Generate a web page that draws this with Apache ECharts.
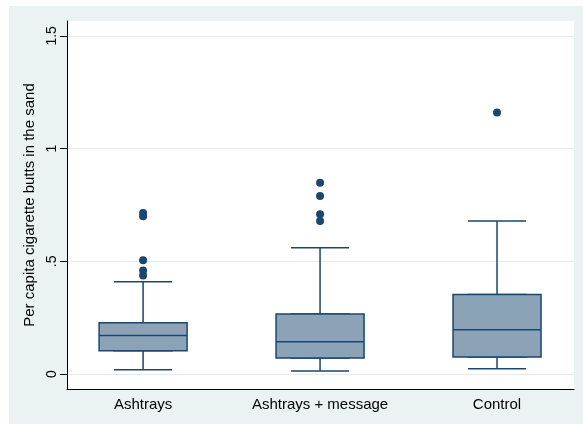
<!DOCTYPE html>
<html><head><meta charset="utf-8">
<script src="https://cdn.jsdelivr.net/npm/echarts@6/dist/echarts.min.js"></script>
<style>
html,body{margin:0;padding:0;background:#fff;width:583px;height:424px;overflow:hidden}
#chart{position:absolute;left:9px;top:6px;width:574px;height:418px;}
</style>
</head><body><div id="chart"></div>
<script>
const categories = ['Ashtrays', 'Ashtrays + message', 'Control'];
const lowerWhisker = [0.019, 0.014, 0.024];
const q1 = [0.104, 0.071, 0.076];
const median = [0.171, 0.144, 0.197];
const q3 = [0.228, 0.267, 0.353];
const upperWhisker = [0.410, 0.560, 0.679];
const outliersAshtrays = [0.437, 0.459, 0.505, 0.700, 0.715];
const outliersMessage = [0.679, 0.709, 0.790, 0.849];
const outliersControl = [1.160];
const yTickValues = [0, 0.5, 1, 1.5];
const yTickLabels = ['0', '.5', '1', '1.5'];
const yTitle = 'Per capita cigarette butts in the sand';

const NAVY = '#1A476F';
const FILL = '#8CA3B7';
const FONT = '"Liberation Sans", Arial, Helvetica, sans-serif';

const whiskerData = categories.map((c, i) => [i, lowerWhisker[i], q1[i], median[i], q3[i], upperWhisker[i]]);
const boxData = categories.map((c, i) => [i, q1[i], q1[i], median[i], q3[i], q3[i]]);
const outlierGroups = [outliersAshtrays, outliersMessage, outliersControl];
const outlierData = [];
outlierGroups.forEach((g, i) => g.forEach(v => outlierData.push([i, v])));

const xBase = { type: 'value', min: -0.43, max: 2.435, splitLine: { show: false }, axisTick: { show: false } };

const chart = echarts.init(document.getElementById('chart'), null, { renderer: 'canvas' });
chart.setOption({
  animation: false,
  backgroundColor: '#EAF2F3',
  grid: { left: 58, right: 9, top: 15, bottom: 35, show: true, backgroundColor: '#fff', borderWidth: 0, outerBoundsMode: 'none', containLabel: false },
  xAxis: [
    Object.assign({}, xBase, {
      axisLine: { show: true, onZero: false, lineStyle: { color: '#000', width: 1 } },
      axisLabel: { customValues: [0, 1, 2], formatter: v => categories[Math.round(v)], color: '#000', fontSize: 15, margin: 8, fontFamily: FONT }
    }),
    Object.assign({}, xBase, { show: false })
  ],
  yAxis: {
    type: 'value', min: -0.066, max: 1.566,
    name: yTitle, nameLocation: 'middle', nameRotate: 90, nameGap: 18,
    nameTextStyle: { color: '#000', fontSize: 15, fontFamily: FONT },
    axisLine: { show: true, onZero: false, lineStyle: { color: '#000', width: 1 } },
    axisTick: { show: true, customValues: yTickValues, length: 7, lineStyle: { color: '#000', width: 1 } },
    axisLabel: { customValues: yTickValues, formatter: v => yTickLabels[yTickValues.indexOf(v)] ?? String(v), rotate: 90, margin: 8, color: '#000', fontSize: 14, fontFamily: FONT },
    splitLine: { show: true, lineStyle: { color: '#E3EBEE', width: 1.2 } }
  },
  series: [
    { type: 'boxplot', xAxisIndex: 1, data: whiskerData, boxWidth: [58, 58],
      itemStyle: { color: FILL, borderColor: NAVY, borderWidth: 1.5 } },
    { type: 'boxplot', xAxisIndex: 0, data: boxData, boxWidth: [88, 88],
      itemStyle: { color: FILL, borderColor: NAVY, borderWidth: 1.5 } },
    { type: 'scatter', xAxisIndex: 0, data: outlierData, symbol: 'circle', symbolSize: 8,
      itemStyle: { color: NAVY, opacity: 1 } }
  ]
});
</script>
</body></html>
